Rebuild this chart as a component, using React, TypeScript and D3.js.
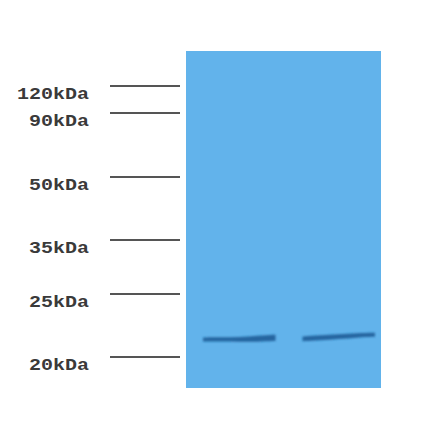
import React from "react";
import * as d3 from "d3";

const markerLabels = ["120kDa", "90kDa", "50kDa", "35kDa", "25kDa", "20kDa"];
const markerRf = [0.104, 0.184, 0.374, 0.561, 0.721, 0.908];
const lanes = ["Lane 1", "Lane 2"];
const bandRf = [0.856, 0.854];
const lane1Tilt = [0.0, 0.0, 0.0, -0.002, -0.005];
const lane2Tilt = [0.0, -0.003, -0.006, -0.01, -0.012];
const lane1Thick = [0.65, 0.7, 0.75, 1.0, 1.05];
const lane2Thick = [0.8, 0.85, 0.8, 0.75, 0.65];

export default function App() {
  const W = 440, H = 441;
  const gel = { x0: 186, x1: 381, y0: 51, y1: 388 };
  const y = d3.scaleLinear().domain([0, 1]).range([gel.y0, gel.y1]);
  const x = d3
    .scaleBand<string>()
    .domain(lanes)
    .range([gel.x0, gel.x1])
    .paddingInner(0.271)
    .paddingOuter(0.1156)
    .align(0.74);
  const tilts = [lane1Tilt, lane2Tilt];
  const thicks = [lane1Thick, lane2Thick];
  const t = d3.scaleLinear().domain([0, lane1Tilt.length - 1]).range([0, 1]);
  return (
    <div style={{ margin: -8 }}>
      <svg width={W} height={H} style={{ display: "block", background: "#fff" }}>
        <defs>
          <filter id="blur" x="-20%" y="-200%" width="140%" height="500%">
            <feGaussianBlur stdDeviation="1.3" />
          </filter>
        </defs>
        <rect x={gel.x0} y={gel.y0} width={gel.x1 - gel.x0} height={gel.y1 - gel.y0} fill="#62b3eb" />
        {lanes.map((l, li) => {
          const bx = x(l)!;
          const bw = x.bandwidth();
          const pts = tilts[li].map((d, i) => ({ i, d, th: thicks[li][i] }));
          const area = d3
            .area<{ i: number; d: number; th: number }>()
            .x((p) => bx + t(p.i) * bw)
            .y0((p) => y(bandRf[li] + p.d) - p.th * 3)
            .y1((p) => y(bandRf[li] + p.d) + p.th * 3)
            .curve(d3.curveBasis);
          return (
            <g key={l} filter="url(#blur)">
              <path d={area(pts) || ""} fill="#1e5d98" opacity={0.9} />
            </g>
          );
        })}
        {markerLabels.map((m, i) => (
          <g key={m}>
            <line x1={110} x2={180} y1={y(markerRf[i])} y2={y(markerRf[i])} stroke="#555" strokeWidth={2} />
            <text
              x={89}
              y={y(markerRf[i]) + 13}
              textAnchor="end"
              fontFamily="Liberation Mono, DejaVu Sans Mono, monospace"
              fontSize={17}
              fontWeight="bold"
              fill="#3a3a3a"
              textLength={m.length * 12}
              lengthAdjust="spacingAndGlyphs"
            >
              {m}
            </text>
          </g>
        ))}
      </svg>
    </div>
  );
}
